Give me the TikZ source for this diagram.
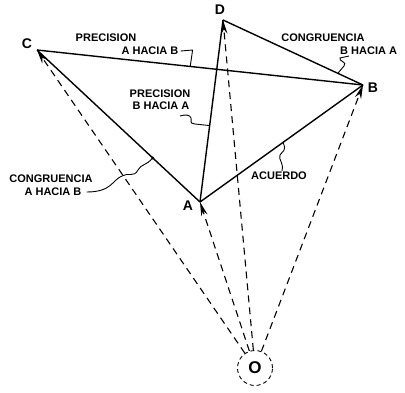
\documentclass[tikz,border=0pt]{standalone}
\usepackage{fontspec}
\setmainfont{Liberation Sans}
\usetikzlibrary{arrows.meta,calc}
\begin{document}
\begin{tikzpicture}[x=1pt,y=-1pt,
  edge/.style={line width=1.4pt},
  ray/.style={line width=1.1pt, dash pattern=on 7pt off 5pt, -{Stealth[length=14pt,width=6.5pt]}},
  lbl/.style={font=\bfseries\fontsize{11}{12}\selectfont, inner sep=0pt},
  vtx/.style={font=\bfseries\fontsize{14}{14}\selectfont, inner sep=0pt},
  lead/.style={line width=0.9pt}]
\useasboundingbox (0,0) rectangle (405,392);
% vertices
\coordinate (C) at (37,50);
\coordinate (D) at (223,20);
\coordinate (B) at (363,85);
\coordinate (A) at (200,202);
\node[circle, draw, line width=0.9pt, dash pattern=on 4pt off 3pt, minimum size=35pt, inner sep=0pt,
      font=\bfseries\fontsize{17}{17}\selectfont] (O) at (255,368) {O};
% vertex labels
\node[vtx] (lC) at (27,44) {C};
\node[vtx] (lD) at (220,10) {D};
\node[vtx] (lB) at (373,88) {B};
\node[vtx] (lA) at (188,206) {A};
% solid edges
\draw[edge] (C) -- (B);
\draw[edge] (D) -- (B);
\draw[edge] (A) -- (D);
\draw[edge] (A) -- (C);
\draw[edge] (A) -- (B);
% dashed rays from O
\draw[ray] (O) -- (C);
\draw[ray] (O) -- (A);
\draw[ray] (O) -- (D);
\draw[ray] (O) -- (B);
% points on edges for leaders
\coordinate (pCB) at ($(C)!0.47!(B)$);
\coordinate (pAD) at ($(A)!0.42!(D)$);
\coordinate (pDB) at ($(D)!0.82!(B)$);
\coordinate (pCA) at ($(C)!0.71!(A)$);
\coordinate (pAB) at ($(A)!0.51!(B)$);
% labels
\node[lbl] (t1a) at (106,37.5) {PRECISION};
\node[lbl] (t1b) at (150,51) {A HACIA B};
\node[lbl] (t2a) at (160,94) {PRECISION};
\node[lbl] (t2b) at (161,106) {B HACIA A};
\node[lbl] (t3a) at (323,37.5) {CONGRUENCIA};
\node[lbl, anchor=west] (t3b) at (340,51) {B HACIA A};
\node[lbl] (t4a) at (51,179) {CONGRUENCIA};
\node[lbl] (t4b) at (53,192) {A HACIA B};
\node[lbl] (t5) at (279,176) {ACUERDO};
% leaders
\draw[lead] ($(t1b.east)+(2,0)$) -- ++(12,-1) -- (pCB);
\draw[lead] (180,116) .. controls (186,114) and (190,115) .. (191,118)
  .. controls (192,122) and (189,123) .. (195,124) -- (pAD);
\draw[lead] (349,56) -- (340,58) .. controls (338,61) and (348,62) .. (344,66) -- (pDB);
\draw[lead] ($(t4b.east)+(5,0)$) .. controls (112,192) and (112,180) .. (122,176)
  .. controls (128,172) and (134,178) .. (138,170)
  .. controls (141,164) and (146,166) .. (pCA);
\fill (pCA) circle (1.6pt);
\draw[lead] ($(t5.north)+(3,-1)$) .. controls (284,162) and (278,160) .. (280,155)
  .. controls (282,151) and (287,152) .. (pAB);
\end{tikzpicture}
\end{document}
